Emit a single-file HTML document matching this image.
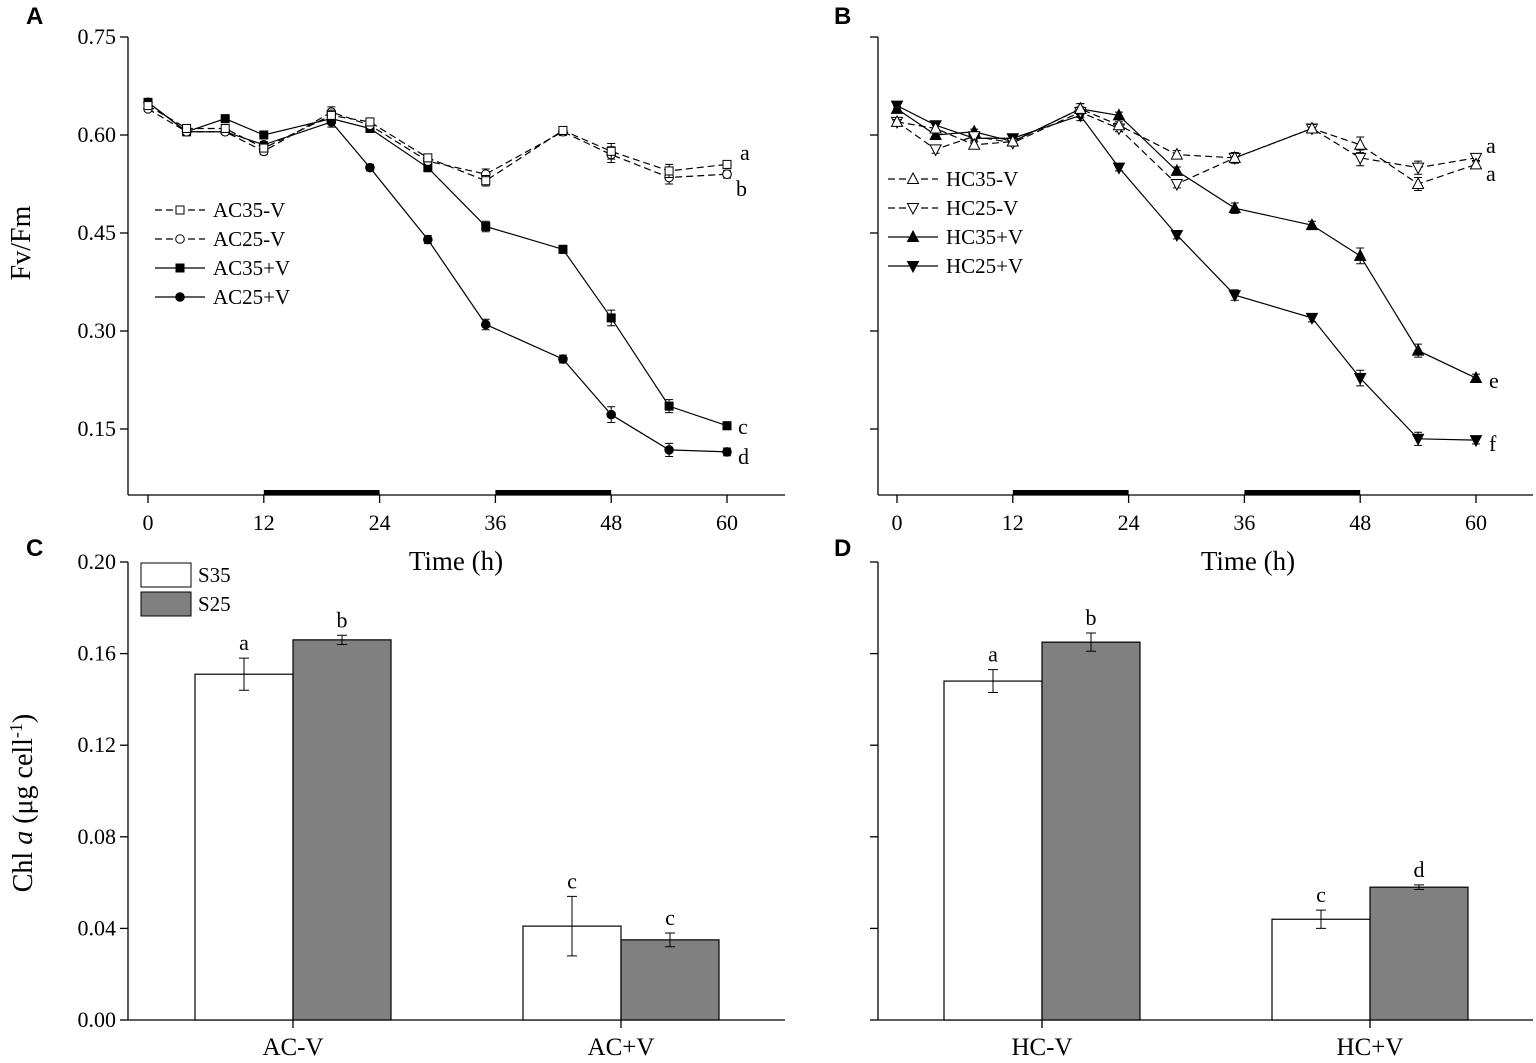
<!DOCTYPE html>
<html><head><meta charset="utf-8"><style>
body{margin:0;background:#fff;width:1536px;height:1058px;overflow:hidden}
svg text{font-family:"Liberation Serif",serif;fill:#000}
svg text.pl{font-family:"Liberation Sans",sans-serif;font-weight:bold}
</style></head><body>
<svg id="fig" width="1536" height="1058" xmlns="http://www.w3.org/2000/svg"></svg>
<script>
const times=[0,4,8,12,19,23,29,35,43,48,54,60];
const ac35m=[0.645,0.61,0.61,0.58,0.63,0.62,0.565,0.53,0.607,0.575,0.545,0.555];
const ac25m=[0.64,0.605,0.605,0.575,0.635,0.615,0.56,0.54,0.605,0.57,0.535,0.54];
const ac35p=[0.65,0.605,0.625,0.60,0.625,0.61,0.55,0.46,0.425,0.32,0.185,0.155];
const ac25p=[0.65,0.605,0.605,0.585,0.62,0.55,0.44,0.31,0.257,0.172,0.118,0.115];
const hc35m=[0.62,0.61,0.585,0.59,0.64,0.615,0.57,0.565,0.61,0.585,0.525,0.555];
const hc25m=[0.62,0.578,0.598,0.588,0.635,0.61,0.525,0.565,0.61,0.565,0.55,0.565];
const hc35p=[0.64,0.60,0.605,0.59,0.64,0.63,0.545,0.488,0.462,0.415,0.27,0.228];
const hc25p=[0.645,0.615,0.595,0.595,0.63,0.55,0.447,0.355,0.32,0.228,0.135,0.133];
const errs=[0.004,0.006,0.004,0.005,0.008,0.005,0.006,0.008,0.006,0.012,0.01,0.006];
const yTicksA=[0.15,0.30,0.45,0.60,0.75];
const xTicks=[0,12,24,36,48,60];
const barCats=["AC-V","AC+V"], barCatsD=["HC-V","HC+V"];
const cS35=[0.151,0.041], cS25=[0.166,0.035], cE35=[0.007,0.013], cE25=[0.002,0.003];
const dS35=[0.148,0.044], dS25=[0.165,0.058], dE35=[0.005,0.004], dE25=[0.004,0.001];
const cL35=["a","c"], cL25=["b","c"], dL35=["a","c"], dL25=["b","d"];
const yTicksC=[0.00,0.04,0.08,0.12,0.16,0.20];

const svg=document.getElementById('fig');const NS="http://www.w3.org/2000/svg";
function el(t,a,name,txt){const e=document.createElementNS(NS,t);for(const k in a)e.setAttribute(k,a[k]);


if(txt!==undefined)e.textContent=txt;svg.appendChild(e);return e;}

function lineAxes(x0,x1,top,bot,xs,ys,labels){
  el('line',{x1:x0,y1:top,x2:x0,y2:bot,stroke:'#000','stroke-width':1.3},'y-axis');
  el('line',{x1:x0,y1:bot,x2:x1,y2:bot,stroke:'#000','stroke-width':1.3},'x-axis');
  yTicksA.forEach(v=>{const y=ys(v);el('line',{x1:x0-8,y1:y,x2:x0,y2:y,stroke:'#000','stroke-width':1.3},'y-tick');
    if(labels)el('text',{x:x0-12,y:y+7,'text-anchor':'end','font-size':22},'y-tick-label',v.toFixed(2));});
  xTicks.forEach(v=>{const x=xs(v);el('line',{x1:x,y1:bot,x2:x,y2:bot+8,stroke:'#000','stroke-width':1.3},'x-tick');
    el('text',{x:x,y:bot+35,'text-anchor':'middle','font-size':22},'x-tick-label',v);});
  [[12,24],[36,48]].forEach(p=>el('rect',{x:xs(p[0]),y:bot-5,width:xs(p[1])-xs(p[0]),height:5,fill:'#000'},'dark-period-bar'));
}
function marker(type,x,y,name){
  const f=type.fill?'#000':'#fff';
  if(type.s=='sq')el('rect',{x:x-4,y:y-4,width:8,height:8,fill:f,stroke:'#000','stroke-width':1},name);
  else if(type.s=='ci')el('circle',{cx:x,cy:y,r:4.3,fill:f,stroke:'#000','stroke-width':1},name);
  else if(type.s=='up')el('polygon',{points:`${x},${y-6} ${x-5.5},${y+4.5} ${x+5.5},${y+4.5}`,fill:f,stroke:'#000','stroke-width':1},name);
  else el('polygon',{points:`${x},${y+6} ${x-5.5},${y-4.5} ${x+5.5},${y-4.5}`,fill:f,stroke:'#000','stroke-width':1},name);
}
function series(vals,xs,ys,type,dash,name){
  el('polyline',{points:times.map((t,i)=>xs(t)+','+ys(vals[i])).join(' '),fill:'none',stroke:'#000','stroke-width':1.2,'stroke-dasharray':dash?'7,4':'none'},name+'-line');
  times.forEach((t,i)=>{const x=xs(t),y1=ys(vals[i]-errs[i]),y2=ys(vals[i]+errs[i]);
    el('path',{d:`M${x},${y1}V${y2}M${x-4},${y1}H${x+4}M${x-4},${y2}H${x+4}`,stroke:'#000','stroke-width':1,fill:'none'},name+'-error-bar');
    marker(type,x,ys(vals[i]),name+'-point');});
}
function legend(x,y,items){
  items.forEach((it,i)=>{const yy=y+i*29;
    el('line',{x1:x,y1:yy,x2:x+50,y2:yy,stroke:'#000','stroke-width':1.2,'stroke-dasharray':it.d?'7,4':'none'},'legend-line');
    marker(it.t,x+25,yy,'legend-marker');
    el('text',{x:x+58,y:yy+7,'font-size':21},'legend-entry',it.n);});
}
const ysA=v=>37+(0.75-v)/0.15*98;
const xsA=t=>148+t*9.65, xsB=t=>897+t*9.65;
lineAxes(128,785,37,495,xsA,ysA,true);
lineAxes(878,1533,37,495,xsB,ysA,false);
el('text',{x:26,y:24,'font-size':24,class:'pl'},'panel-label-a','A');
el('text',{x:834,y:24,'font-size':24,class:'pl'},'panel-label-b','B');
el('text',{x:26,y:556,'font-size':24,class:'pl'},'panel-label-c','C');
el('text',{x:834,y:556,'font-size':24,class:'pl'},'panel-label-d','D');
el('text',{x:30,y:243,'font-size':28,'text-anchor':'middle',transform:'rotate(-90 30 243)'},'y-axis-title-a','Fv/Fm');
el('text',{x:456,y:570,'font-size':27,'text-anchor':'middle'},'x-axis-title-a','Time (h)');
el('text',{x:1248,y:570,'font-size':27,'text-anchor':'middle'},'x-axis-title-b','Time (h)');
const SQ={s:'sq'},SQF={s:'sq',fill:1},CI={s:'ci'},CIF={s:'ci',fill:1},UP={s:'up'},UPF={s:'up',fill:1},DN={s:'dn'},DNF={s:'dn',fill:1};
series(ac25p,xsA,ysA,CIF,false,'ac25-plus-v');
series(ac35p,xsA,ysA,SQF,false,'ac35-plus-v');
series(ac25m,xsA,ysA,CI,true,'ac25-minus-v');
series(ac35m,xsA,ysA,SQ,true,'ac35-minus-v');
series(hc25p,xsB,ysA,DNF,false,'hc25-plus-v');
series(hc35p,xsB,ysA,UPF,false,'hc35-plus-v');
series(hc25m,xsB,ysA,DN,true,'hc25-minus-v');
series(hc35m,xsB,ysA,UP,true,'hc35-minus-v');
legend(155,210,[{n:'AC35-V',t:SQ,d:1},{n:'AC25-V',t:CI,d:1},{n:'AC35+V',t:SQF},{n:'AC25+V',t:CIF}]);
legend(888,179,[{n:'HC35-V',t:UP,d:1},{n:'HC25-V',t:DN,d:1},{n:'HC35+V',t:UPF},{n:'HC25+V',t:DNF}]);
[['a',740,160],['b',736,196],['c',738,434],['d',738,464]].forEach(a=>el('text',{x:a[1],y:a[2],'font-size':22},'significance-letter',a[0]));
[['a',1486,153],['a',1486,181],['e',1489,388],['f',1489,451]].forEach(a=>el('text',{x:a[1],y:a[2],'font-size':22},'significance-letter',a[0]));

const ysC=v=>1020-v/0.04*91.6;
function barPanel(x0,x1,centers,cats,s35,s25,e35,e25,l35,l25,labels){
  el('line',{x1:x0,y1:562,x2:x0,y2:1020,stroke:'#000','stroke-width':1.3},'y-axis');
  el('line',{x1:x0,y1:1020,x2:x1,y2:1020,stroke:'#000','stroke-width':1.3},'x-axis');
  yTicksC.forEach(v=>{const y=ysC(v);el('line',{x1:x0-8,y1:y,x2:x0,y2:y,stroke:'#000','stroke-width':1.3},'y-tick');
    if(labels)el('text',{x:x0-12,y:y+7,'text-anchor':'end','font-size':22},'y-tick-label',v.toFixed(2));});
  cats.forEach((c,i)=>{const cx=centers[i];
    el('line',{x1:cx,y1:1020,x2:cx,y2:1028,stroke:'#000','stroke-width':1.3},'x-tick');
    el('text',{x:cx,y:1055,'text-anchor':'middle','font-size':25},'x-tick-label',c);
    [[s35,e35,l35,-98,'#fff','s35'],[s25,e25,l25,0,'#808080','s25']].forEach(b=>{
      const v=b[0][i],e=b[1][i],x=cx+b[3],y=ysC(v);
      el('rect',{x:x,y:y,width:98,height:1020-y,fill:b[4],stroke:'#000','stroke-width':1.2},'bar-'+b[5]+'-'+c);
      const m=x+49,y1=ysC(v-e),y2=ysC(v+e);
      el('path',{d:`M${m},${y1}V${y2}M${m-5},${y1}H${m+5}M${m-5},${y2}H${m+5}`,stroke:'#000','stroke-width':1,fill:'none'},'bar-error');
      el('text',{x:m,y:y2-8,'text-anchor':'middle','font-size':22},'significance-letter',b[2][i]);
    });
  });
}
barPanel(128,785,[293,621],barCats,cS35,cS25,cE35,cE25,cL35,cL25,true);
barPanel(878,1533,[1042,1370],barCatsD,dS35,dS25,dE35,dE25,dL35,dL25,false);
const t=el('text',{x:32,y:803,'font-size':28,'text-anchor':'middle',transform:'rotate(-90 32 803)'},'y-axis-title-c','');
t.innerHTML='Chl <tspan font-style="italic">a</tspan> (μg cell<tspan dy="-10" font-size="18">-1</tspan><tspan dy="10">)</tspan>';
el('rect',{x:141,y:563,width:50,height:24,fill:'#fff',stroke:'#000'},'legend-swatch-s35');
el('text',{x:198,y:582,'font-size':21},'legend-entry','S35');
el('rect',{x:141,y:592,width:50,height:24,fill:'#808080',stroke:'#000'},'legend-swatch-s25');
el('text',{x:198,y:611,'font-size':21},'legend-entry','S25');
</script>
</body></html>
